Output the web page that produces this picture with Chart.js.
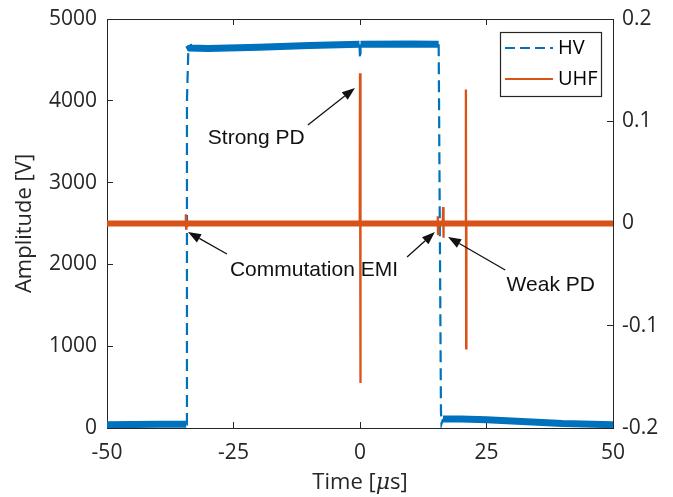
<!DOCTYPE html>
<html>
<head>
<meta charset="utf-8">
<script src="https://cdn.jsdelivr.net/npm/chart.js@4.4.1/dist/chart.umd.min.js"></script>
<style>
  html, body { margin: 0; padding: 0; background: #fff; }
</style>
</head>
<body>
<canvas id="chart" width="673" height="497"></canvas>
<script>
// HV trace (left axis, volts)
const hvTime  = [-50, -40, -34.35, -34.2, -33.9, -33.6, -30, -20, -10, -0.1, 0, 0.1, 10, 15.55, 16.0, 16.1, 16.4, 20, 25, 30, 40, 50];
const hvVolts = [40, 45, 45, 4000, 4680, 4645, 4640, 4655, 4675, 4690, 4520, 4690, 4695, 4690, 200, 50, 110, 110, 100, 85, 55, 40];

// UHF trace (right axis)
const uhfTime = [-50, -34.5, -34.42, -34.36, -34.3, -0.05, 0.0, 0.07, 0.12,
                 15.3, 15.37, 15.42, 15.5, 16.35, 16.42, 16.48, 16.55,
                 20.88, 20.93, 20.98, 21.03, 50];
const uhfVals = [0, 0, 0.009, -0.005, 0, 0, 0.147, -0.156, 0,
                 0, 0.007, -0.01, 0, 0, 0.016, -0.014, 0,
                 0, 0.131, -0.122, 0, 0];

const xTicks = [-50, -25, 0, 25, 50];
const seriesNames = ['HV', 'UHF'];

// text notes, placed in data units (x: us, y: volts)
const notes = [
  { text: 'Strong PD', x: -20.5, y: 3545 },
  { text: 'Commutation EMI', x: -9.1, y: 1935 },
  { text: 'Weak PD', x: 37.7, y: 1750 }
];
const arrows = [
  { from: [-10.3, 3704], to: [-1.0, 4156] },
  { from: [-26.3, 2127], to: [-34.0, 2396] },
  { from: [9.3, 2090],   to: [14.8, 2396] },
  { from: [28.7, 1932],  to: [17.4, 2335] }
];

const BLUE = '#0072BD';
const ORANGE = '#D95319';
const AXIS = '#262626';
const tickFont = { family: 'Open Sans', size: 21 };
const titleFont = { family: 'Open Sans', size: 22 };

function steep(ctx) {
  const dx = Math.abs(ctx.p1.x - ctx.p0.x);
  const dy = Math.abs(ctx.p1.y - ctx.p0.y);
  return dy > 3 && dy > 3 * dx;
}

// fixed box sizes, and no extra label padding pushed into the layout
function fixWidth(w) {
  return s => { s.width = w; s.paddingTop = 0; s.paddingBottom = 0; };
}
function fixHeight(h) {
  return s => { s.height = h; s.paddingLeft = 0; s.paddingRight = 0; };
}

const notesPlugin = {
  id: 'notes',
  afterDatasetsDraw(chart) {
    const c = chart.ctx, xs = chart.scales.x, ys = chart.scales.y;
    c.save();
    c.fillStyle = '#111';
    c.strokeStyle = '#111';
    c.font = '21px "Liberation Sans", Arial, sans-serif';
    c.textAlign = 'center';
    c.textBaseline = 'middle';
    notes.forEach(n => c.fillText(n.text, xs.getPixelForValue(n.x), ys.getPixelForValue(n.y)));

    c.lineWidth = 1.3;
    arrows.forEach(a => {
      const x0 = xs.getPixelForValue(a.from[0]), y0 = ys.getPixelForValue(a.from[1]);
      const x1 = xs.getPixelForValue(a.to[0]),   y1 = ys.getPixelForValue(a.to[1]);
      const ang = Math.atan2(y1 - y0, x1 - x0);
      const len = 13, half = 4.8;
      const bx = x1 - len * Math.cos(ang), by = y1 - len * Math.sin(ang);
      c.beginPath();
      c.moveTo(x0, y0);
      c.lineTo(bx, by);
      c.stroke();
      c.beginPath();
      c.moveTo(x1, y1);
      c.lineTo(bx + half * Math.sin(ang), by - half * Math.cos(ang));
      c.lineTo(bx - half * Math.sin(ang), by + half * Math.cos(ang));
      c.closePath();
      c.fill();
    });
    c.restore();
  }
};

// x title with an italic mu, like the TeX label of the original
const xTitlePlugin = {
  id: 'xTitle',
  afterDraw(chart) {
    const c = chart.ctx, area = chart.chartArea;
    const parts = [
      { t: 'Time [', f: '22px "Open Sans", sans-serif' },
      { t: 'μ', f: 'italic 22px "DejaVu Serif", serif' },
      { t: 's]', f: '22px "Open Sans", sans-serif' }
    ];
    c.save();
    let total = 0;
    parts.forEach(p => { c.font = p.f; p.w = c.measureText(p.t).width; total += p.w; });
    let x = (area.left + area.right) / 2 - total / 2;
    c.fillStyle = AXIS;
    c.textBaseline = 'middle';
    c.textAlign = 'left';
    parts.forEach(p => { c.font = p.f; c.fillText(p.t, x, 483); x += p.w; });
    c.restore();
  }
};

const legendPlugin = {
  id: 'boxLegend',
  afterDraw(chart) {
    const c = chart.ctx, area = chart.chartArea;
    const left = area.right - 113, top = area.top + 13, w = 101, h = 64;
    c.save();
    c.fillStyle = '#fff';
    c.fillRect(left, top, w, h);
    c.strokeStyle = AXIS;
    c.lineWidth = 1.2;
    c.strokeRect(left + 0.5, top + 0.5, w, h);

    const rows = [
      { name: seriesNames[0], color: BLUE, dash: [10, 5], y: top + 16 },
      { name: seriesNames[1], color: ORANGE, dash: [], y: top + 47 }
    ];
    c.font = '20px "Open Sans", sans-serif';
    c.textBaseline = 'middle';
    rows.forEach(r => {
      c.strokeStyle = r.color;
      c.lineWidth = 2;
      c.setLineDash(r.dash);
      c.beginPath();
      c.moveTo(left + 5, r.y);
      c.lineTo(left + 53, r.y);
      c.stroke();
      c.setLineDash([]);
      c.fillStyle = '#000';
      c.fillText(r.name, left + 58, r.y);
    });
    c.restore();
  }
};

new Chart(document.getElementById('chart'), {
  type: 'line',
  data: {
    datasets: [
      {
        label: seriesNames[1],
        data: uhfTime.map((t, i) => ({ x: t, y: uhfVals[i] })),
        yAxisID: 'y2',
        borderColor: ORANGE,
        borderWidth: 6,
        pointRadius: 0,
        tension: 0,
        order: 0,
        segment: {
          borderWidth: ctx => steep(ctx) ? 2.3 : 6
        }
      },
      {
        label: seriesNames[0],
        data: hvTime.map((t, i) => ({ x: t, y: hvVolts[i] })),
        yAxisID: 'y',
        borderColor: BLUE,
        borderWidth: 7,
        pointRadius: 0,
        tension: 0,
        order: 1,
        segment: {
          borderWidth: ctx => steep(ctx) ? 2.2 : 7,
          borderDash: ctx => steep(ctx) ? [12, 6] : []
        }
      }
    ]
  },
  options: {
    responsive: false,
    animation: false,
    events: [],
    layout: { padding: 0 },
    plugins: { legend: { display: false }, tooltip: { enabled: false } },
    scales: {
      x: {
        type: 'linear',
        position: 'bottom',
        min: -50, max: 50,
        afterBuildTicks: s => { s.ticks = xTicks.map(v => ({ value: v })); },
        afterFit: fixHeight(69),
        grid: { drawOnChartArea: false, tickLength: -6, color: AXIS },
        border: { color: AXIS, width: 1 },
        ticks: { font: tickFont, color: AXIS, padding: 18, maxRotation: 0 }
      },
      x2: {
        type: 'linear',
        position: 'top',
        min: -50, max: 50,
        afterBuildTicks: s => { s.ticks = xTicks.map(v => ({ value: v })); },
        afterFit: fixHeight(19),
        grid: { drawOnChartArea: false, tickLength: -6, color: AXIS },
        border: { color: AXIS, width: 1 },
        ticks: { display: false }
      },
      y: {
        position: 'left',
        min: 0, max: 5000,
        afterFit: fixWidth(107),
        grid: { drawOnChartArea: false, tickLength: -6, color: AXIS },
        border: { color: AXIS, width: 1 },
        ticks: { stepSize: 1000, font: tickFont, color: AXIS, padding: 16, callback: v => String(v) },
        title: { display: true, text: 'Amplitude [V]', font: titleFont, color: AXIS, padding: { top: 12, bottom: 0 } }
      },
      y2: {
        position: 'right',
        min: -0.2, max: 0.2,
        afterFit: fixWidth(60),
        grid: { drawOnChartArea: false, tickLength: -6, color: AXIS },
        border: { color: AXIS, width: 1 },
        ticks: {
          stepSize: 0.1, font: tickFont, color: AXIS, padding: 15,
          callback: v => { const r = Math.round(v * 10) / 10; return r === 0 ? '0' : String(r); }
        }
      }
    }
  },
  plugins: [notesPlugin, xTitlePlugin, legendPlugin]
});
</script>
</body>
</html>
